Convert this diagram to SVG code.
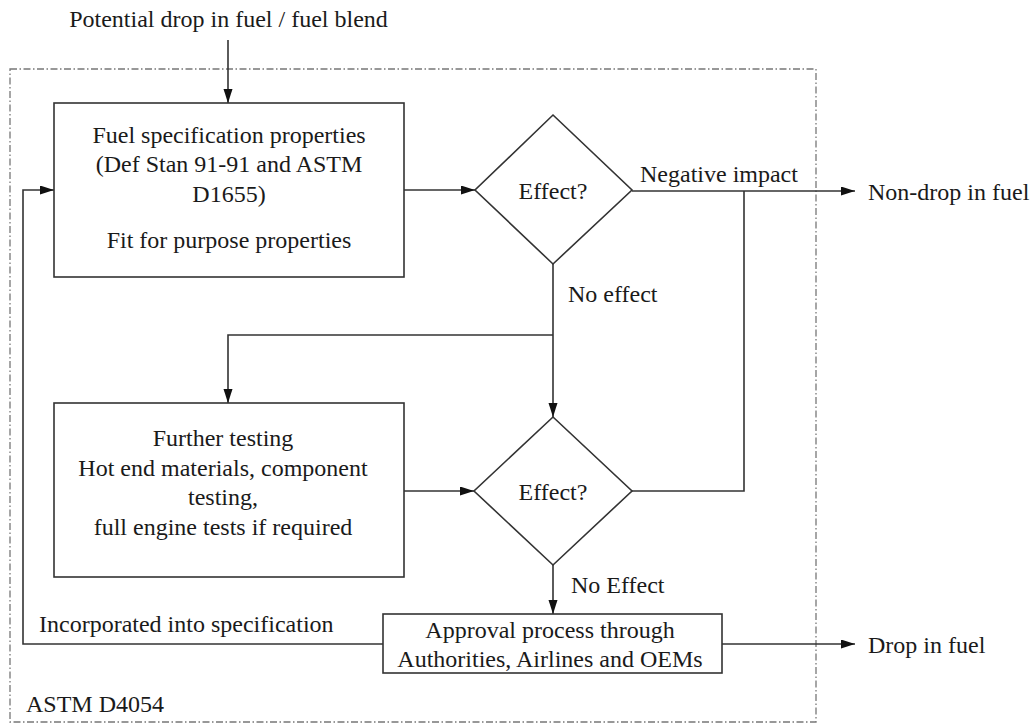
<svg xmlns="http://www.w3.org/2000/svg" width="1036" height="724" viewBox="0 0 1036 724">
<style>
text{font-family:"Liberation Serif","Times New Roman",serif;font-size:24px;fill:#1a1a1a}
.c{text-anchor:middle}
.shape{fill:#fff;stroke:#333;stroke-width:1.6}
.conn{fill:none;stroke:#333;stroke-width:1.6}
.frame{fill:none;stroke:#777;stroke-width:1.3;stroke-dasharray:7 2.5 1.5 2.5}
</style>
<defs>
<marker id="arr" markerUnits="userSpaceOnUse" markerWidth="16" markerHeight="10" refX="14" refY="4.5" orient="auto">
<path d="M0,0 L14,4.5 L0,9 z" fill="#111"/>
</marker>
</defs>
<rect width="1036" height="724" fill="#fff"/>
<g id="frame">
<rect class="frame" x="10" y="69" width="806" height="653"/>
<text x="26" y="712">ASTM D4054</text>
</g>
<g id="input-label"><text class="c" x="228.5" y="27">Potential drop in fuel / fuel blend</text></g>
<g id="connectors">
<path class="conn" d="M228,40 V103" marker-end="url(#arr)"/>
<path class="conn" d="M404,190 H475" marker-end="url(#arr)"/>
<path class="conn" d="M632,191 H855" marker-end="url(#arr)"/>
<path class="conn" d="M553,264 V417" marker-end="url(#arr)"/>
<path class="conn" d="M553,335 H228 V403" marker-end="url(#arr)"/>
<path class="conn" d="M404,491 H474" marker-end="url(#arr)"/>
<path class="conn" d="M632,491 H744 V191"/>
<path class="conn" d="M553,565 V614" marker-end="url(#arr)"/>
<path class="conn" d="M722,644 H855" marker-end="url(#arr)"/>
<path class="conn" d="M383,644 H23 V190 H54" marker-end="url(#arr)"/>
<text x="640" y="182">Negative impact</text>
<text x="568" y="302">No effect</text>
<text x="571" y="593">No Effect</text>
<text x="39" y="632">Incorporated into specification</text>
</g>
<g id="box1">
<rect class="shape" x="54" y="103" width="350" height="174"/>
<text class="c" x="229" y="143">Fuel specification properties</text>
<text class="c" x="229" y="172">(Def Stan 91-91 and ASTM</text>
<text class="c" x="229" y="202">D1655)</text>
<text class="c" x="229" y="248">Fit for purpose properties</text>
</g>
<g id="decision1">
<polygon class="shape" points="553,115 632,190 553,264 475,190"/>
<text class="c" x="553" y="199">Effect?</text>
</g>
<g id="box2">
<rect class="shape" x="54" y="403" width="350" height="174"/>
<text class="c" x="223" y="446">Further testing</text>
<text class="c" x="223" y="476">Hot end materials, component</text>
<text class="c" x="223" y="505">testing,</text>
<text class="c" x="223" y="535">full engine tests if required</text>
</g>
<g id="decision2">
<polygon class="shape" points="553,417 632,491 553,565 474,491"/>
<text class="c" x="553" y="500">Effect?</text>
</g>
<g id="box3">
<rect class="shape" x="383" y="614" width="339" height="59"/>
<text class="c" x="550" y="638">Approval process through</text>
<text class="c" x="550" y="667">Authorities, Airlines and OEMs</text>
</g>
<g id="out-nondrop"><text x="868" y="200">Non-drop in fuel</text></g>
<g id="out-drop"><text x="868" y="653">Drop in fuel</text></g>
</svg>
